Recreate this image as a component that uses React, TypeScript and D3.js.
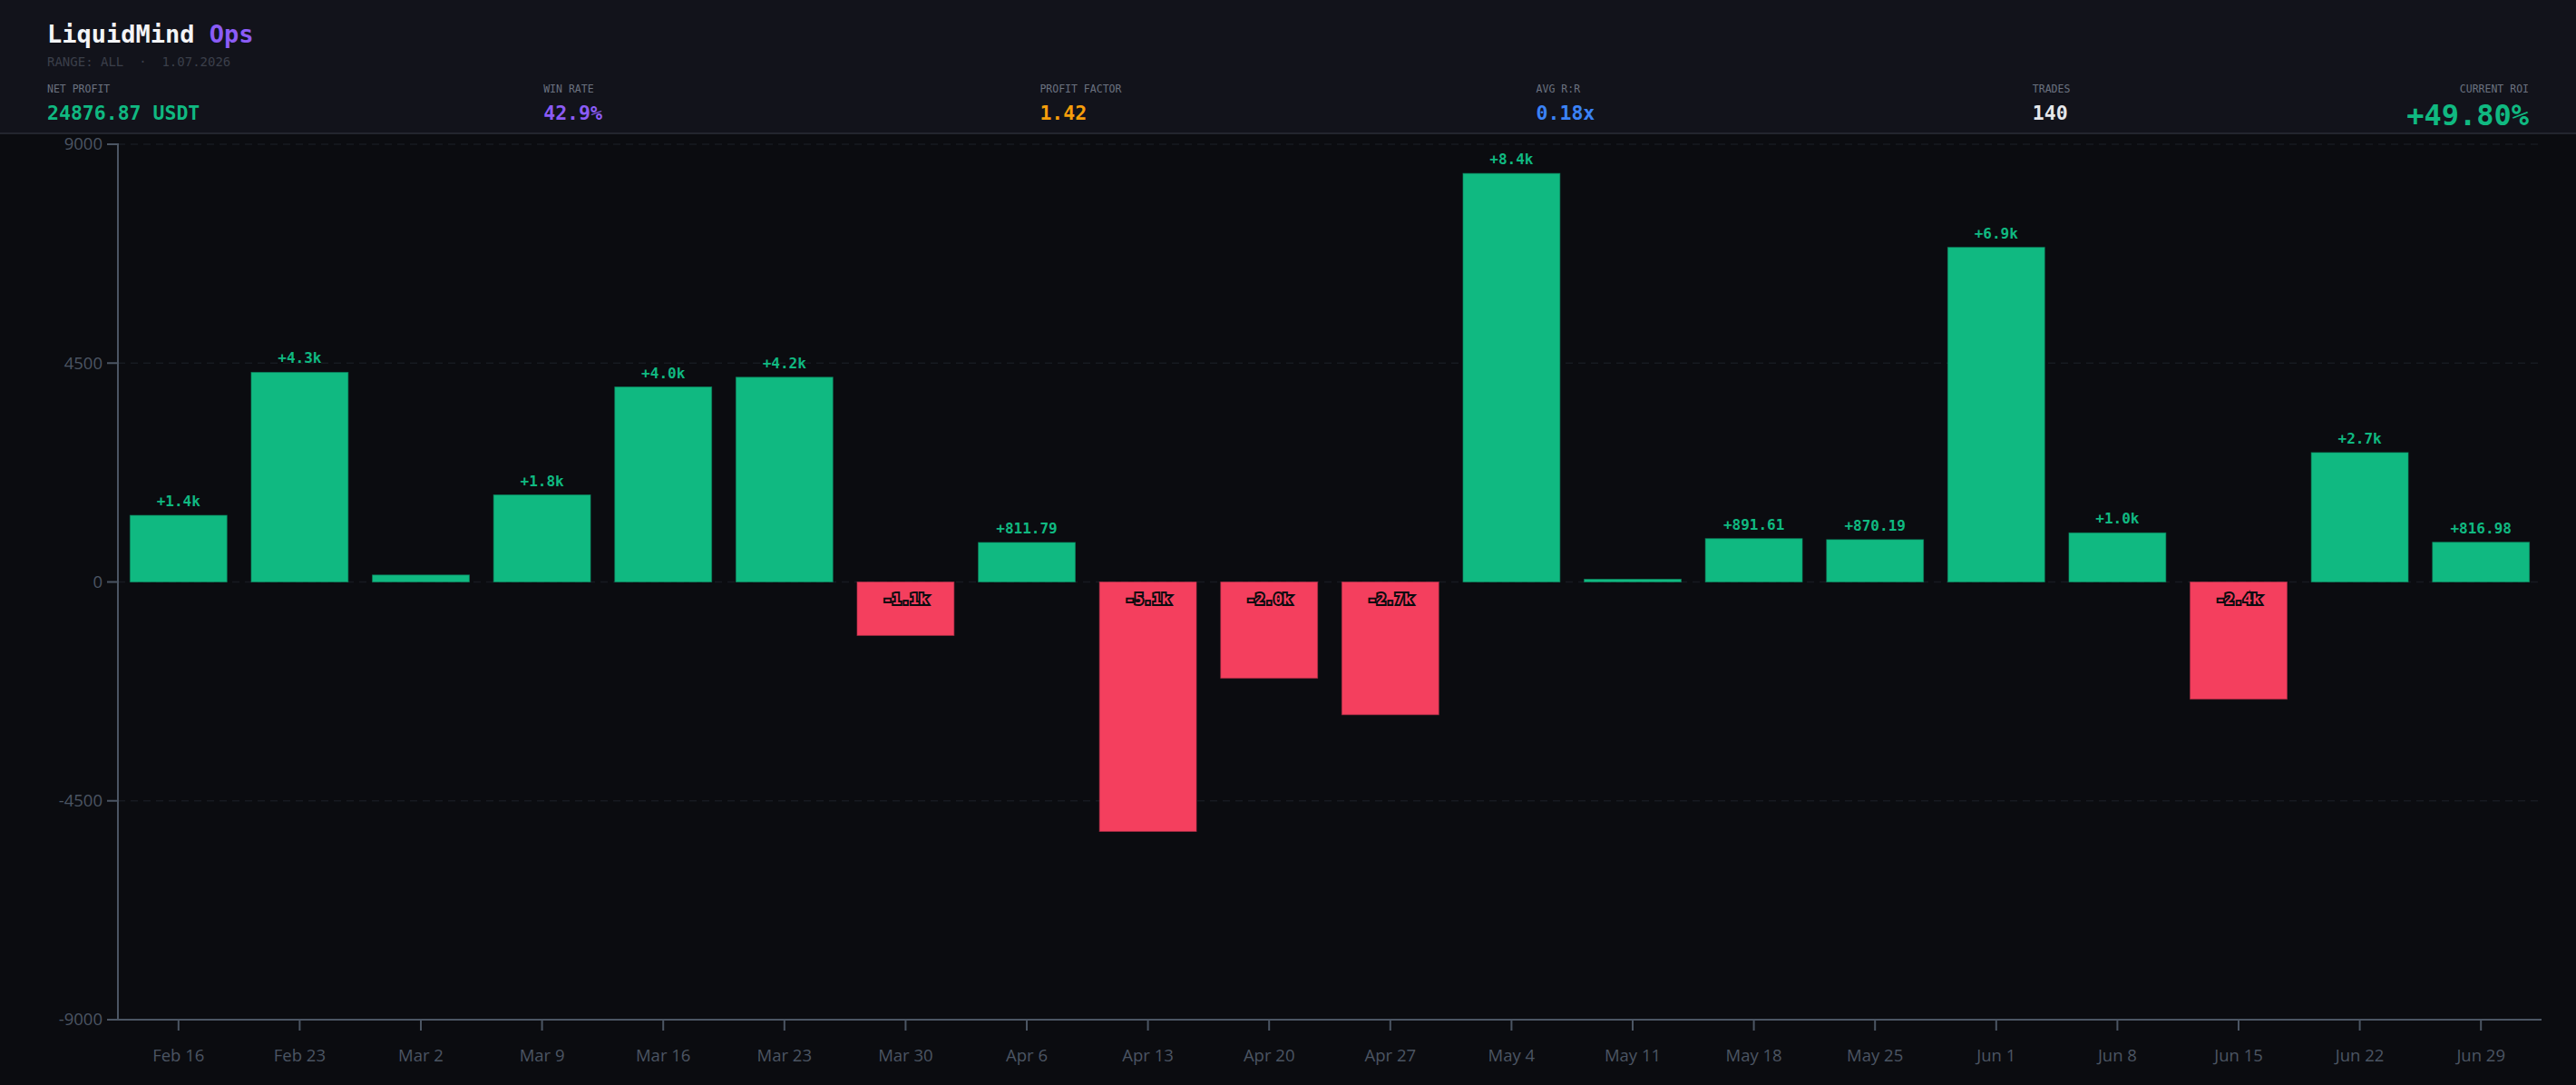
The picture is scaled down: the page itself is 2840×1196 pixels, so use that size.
import React, { useEffect } from "react";
import * as d3 from "d3";

const weeks = ["Feb 16","Feb 23","Mar 2","Mar 9","Mar 16","Mar 23","Mar 30","Apr 6","Apr 13","Apr 20","Apr 27","May 4","May 11","May 18","May 25","Jun 1","Jun 8","Jun 15","Jun 22","Jun 29"];
const pnl = [1370, 4310, 143, 1790, 4010, 4210, -1100, 811.79, -5130, -1980, -2730, 8400, 56, 891.61, 870.19, 6880, 1010, -2410, 2660, 816.98];
const yTicks = [-9000, -4500, 0, 4500, 9000];

const statLabels = ["NET PROFIT", "WIN RATE", "PROFIT FACTOR", "AVG R:R", "TRADES", "CURRENT ROI"];
const statValues = ["24876.87 USDT", "42.9%", "1.42", "0.18x", "140", "+49.80%"];
const statColors = ["#10b981", "#8b5cf6", "#f59e0b", "#3b82f6", "#e5e7eb", "#10b981"];

const W = 2840, H = 1196;
const M = { left: 130, right: 38, top: 159, bottom: 72 };
const GREEN = "#10b981", RED = "#f43f5e";
const MONO = "'DejaVu Sans Mono', 'Liberation Mono', monospace";
const SANS = "'Open Sans', 'Noto Sans', sans-serif";

function fmt(v: number) {
  const s = v >= 0 ? "+" : "-";
  const a = Math.abs(v);
  return a >= 1000 ? s + (a / 1000).toFixed(1) + "k" : s + a.toFixed(2);
}

export default function App() {
  useEffect(() => {
    document.body.style.margin = "0";
    document.body.style.overflow = "hidden";
  }, []);
  const x = d3.scaleBand<string>().domain(weeks).range([M.left, W - M.right]).paddingInner(0.2).paddingOuter(0.1);
  const y = d3.scaleLinear().domain([-9000, 9000]).range([H - M.bottom, M.top]);
  const y0 = y(0);
  const colX = d3.scaleLinear().domain([0, 5]).range([52, 2788]);
  return (
    <svg width={W} height={H} style={{ position: "absolute", left: 0, top: 0, display: "block" }}>
      <rect x={0} y={0} width={W} height={H} fill="#0b0c10" />
      <rect x={0} y={0} width={W} height={147} fill="#12131b" />
      <line x1={0} x2={W} y1={147} y2={147} stroke="#23252e" strokeWidth={2} />
      <text x={52} y={47} fontFamily={MONO} fontSize={27} fontWeight="bold" fill="#f3f4f6">
        LiquidMind <tspan fill="#8b5cf6">Ops</tspan>
      </text>
      <text x={52} y={73} fontFamily={MONO} fontSize={14} fill="#3b3f4a" xmlSpace="preserve">RANGE: ALL  ·  1.07.2026</text>
      {statLabels.map((l, i) => {
        const last = i === statLabels.length - 1;
        return (
          <g key={l}>
            <text x={colX(i)} y={102} fontFamily={MONO} fontSize={11.5} fill="#6b7280" textAnchor={last ? "end" : "start"}>{l}</text>
            <text x={colX(i)} y={last ? 138 : 132} fontFamily={MONO} fontSize={last ? 32 : 21.5} fontWeight="bold" fill={statColors[i]} textAnchor={last ? "end" : "start"}>{statValues[i]}</text>
          </g>
        );
      })}
      {yTicks.map((t) => (
        <line key={"g" + t} x1={M.left} x2={W - M.right} y1={y(t)} y2={y(t)} stroke="#171a21" strokeWidth={1.5} strokeDasharray="8 6" />
      ))}
      {pnl.map((v, i) => {
        const bx = x(weeks[i])!;
        const top = Math.min(y(v), y0);
        const h = Math.abs(y(v) - y0);
        return (
          <rect key={"b" + i} x={bx} y={top} width={x.bandwidth()} height={h} fill={v >= 0 ? GREEN : RED}
            stroke={v >= 0 ? "#0d8a62" : "#b3314a"} strokeWidth={1} strokeOpacity={0.6} />
        );
      })}
      {pnl.map((v, i) => {
        if (Math.abs(v) < 500) return null;
        const cx = x(weeks[i])! + x.bandwidth() / 2;
        if (v >= 0) {
          return (
            <text key={"l" + i} x={cx} y={y(v) - 10} textAnchor="middle" fontFamily={MONO} fontSize={16} fontWeight="bold" fill={GREEN}>{fmt(v)}</text>
          );
        }
        return (
          <text key={"l" + i} x={cx} y={y0 + 24} textAnchor="middle" fontFamily={MONO} fontSize={16.5} fontWeight="bold" fill={RED}
            stroke="#0b0c10" strokeWidth={4} strokeLinejoin="miter" paintOrder="stroke">{fmt(v)}</text>
        );
      })}
      <line x1={M.left} x2={M.left} y1={M.top - 1} y2={H - M.bottom} stroke="#4b5563" strokeWidth={2} />
      <line x1={M.left} x2={W - M.right} y1={H - M.bottom} y2={H - M.bottom} stroke="#4b5563" strokeWidth={2} />
      {yTicks.map((t) => (
        <g key={"y" + t}>
          <line x1={M.left - 12} x2={M.left} y1={y(t)} y2={y(t)} stroke="#4b5563" strokeWidth={2} />
          <text x={M.left - 17} y={y(t)} dy="0.35em" textAnchor="end" fontFamily={SANS} fontSize={18.5} fill="#4b5563">{t}</text>
        </g>
      ))}
      {weeks.map((w) => {
        const cx = x(w)! + x.bandwidth() / 2;
        return (
          <g key={"x" + w}>
            <line x1={cx} x2={cx} y1={H - M.bottom + 1} y2={H - M.bottom + 12} stroke="#4b5563" strokeWidth={2} />
            <text x={cx} y={H - M.bottom + 46} textAnchor="middle" fontFamily={SANS} fontSize={18.5} fill="#4b5563">{w}</text>
          </g>
        );
      })}
    </svg>
  );
}
